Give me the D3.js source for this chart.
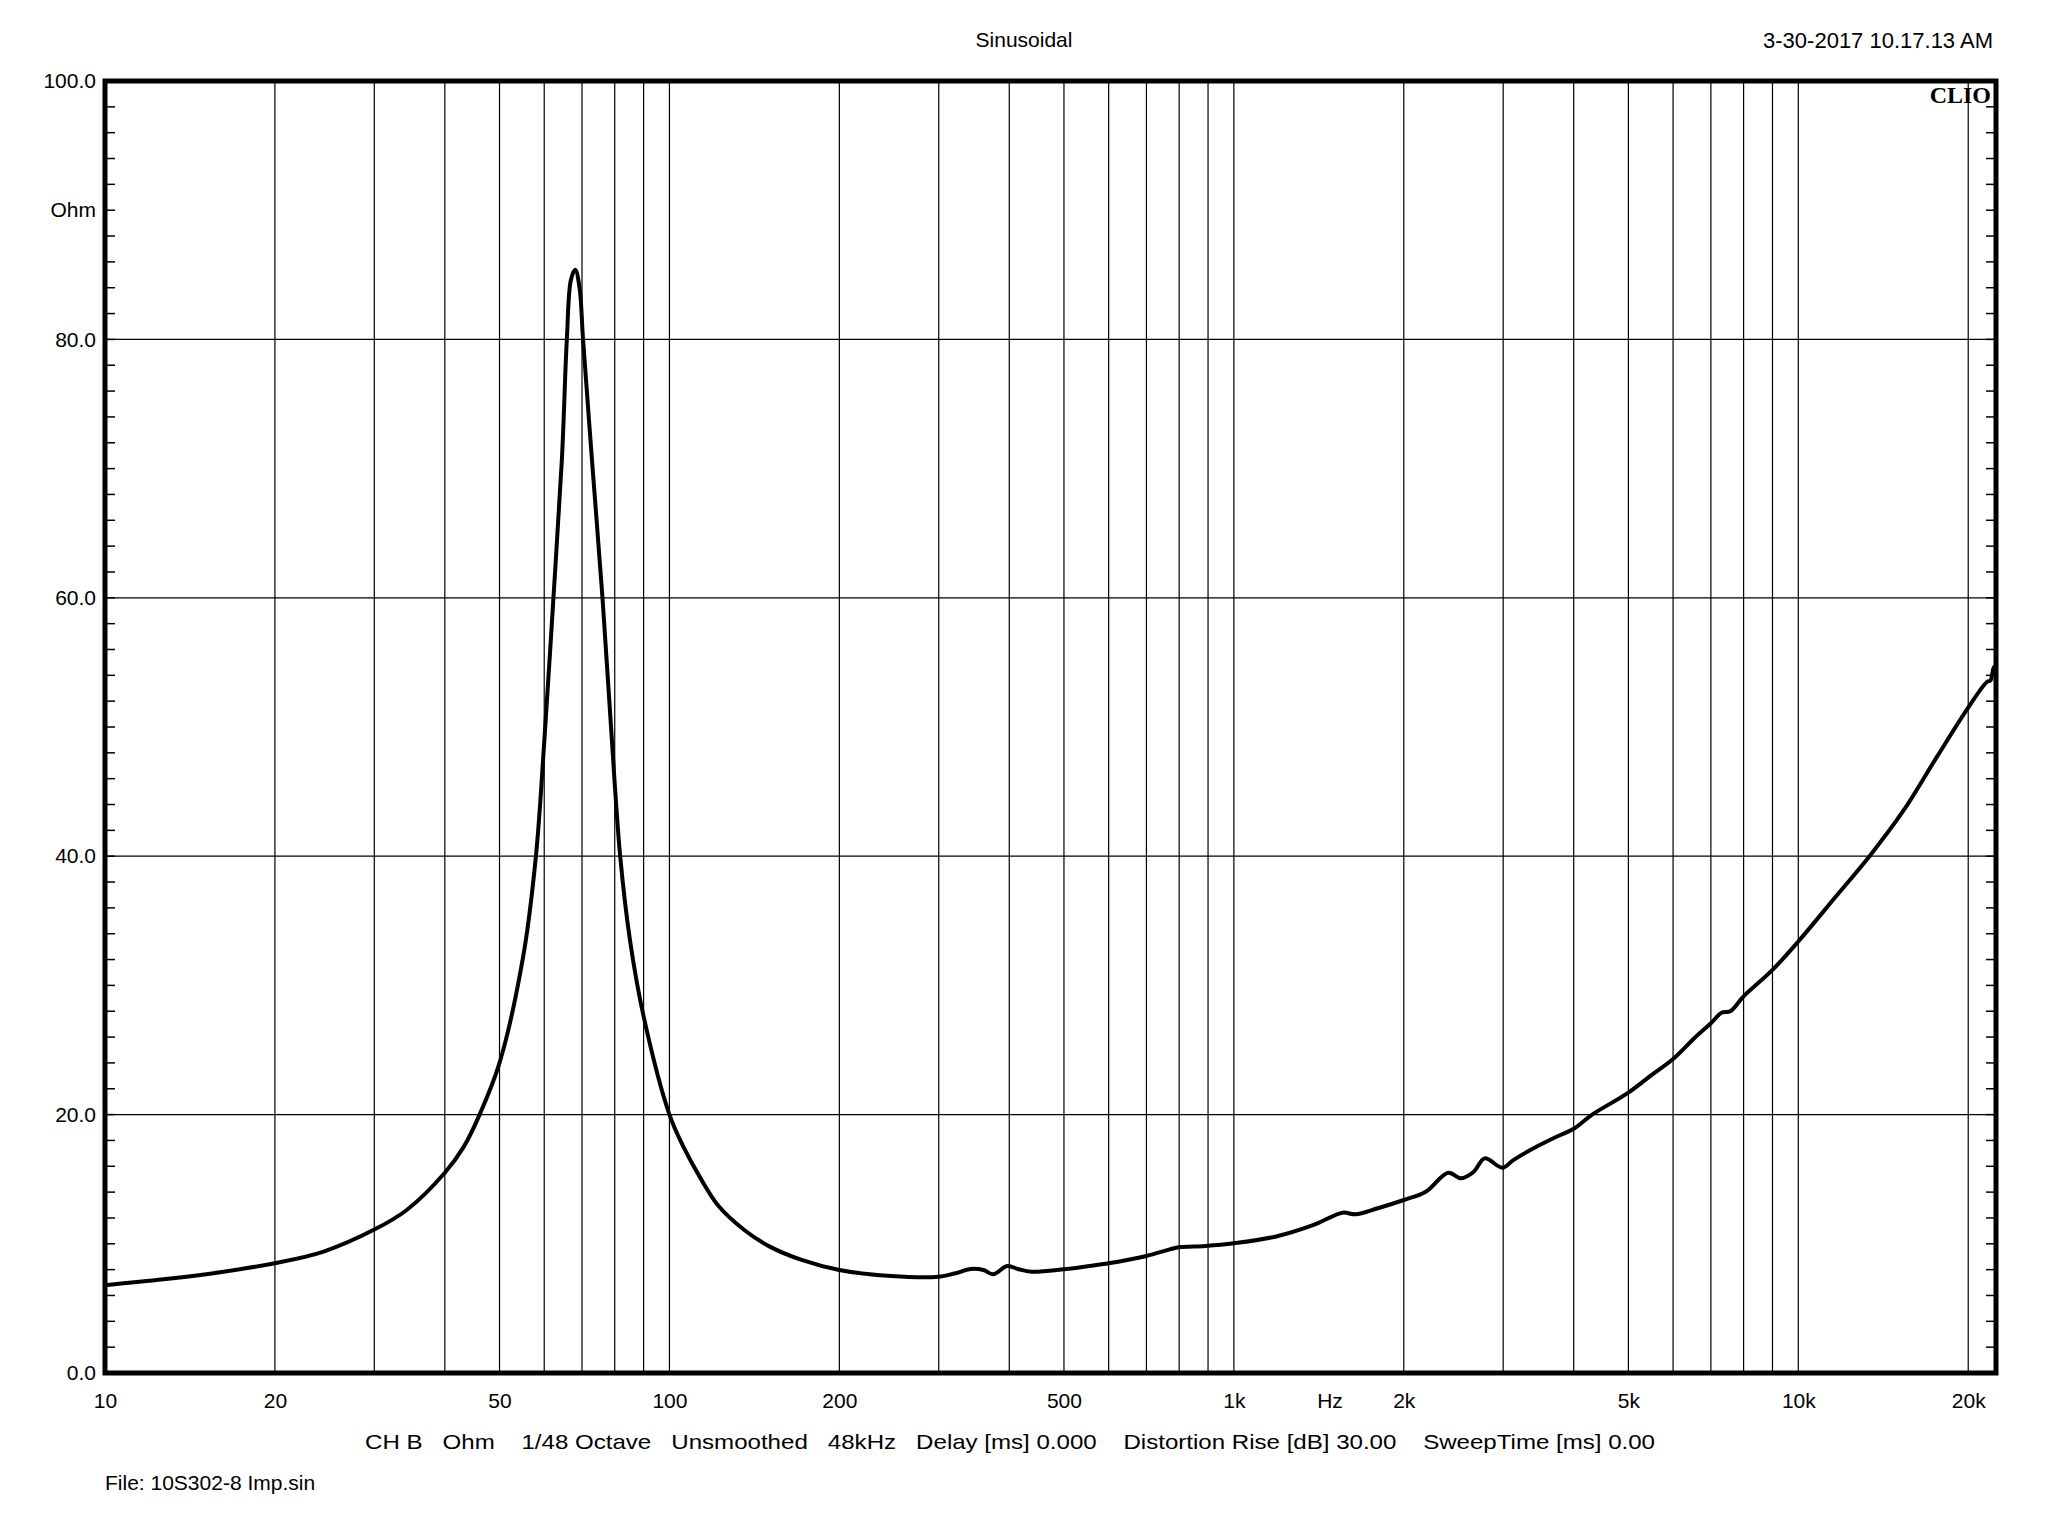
<!DOCTYPE html>
<html>
<head>
<meta charset="utf-8">
<script src="https://cdn.jsdelivr.net/npm/d3@7"></script>
<style>
  body { margin: 0; background: #fff; }
  text { font-family: "Liberation Sans", Arial, sans-serif; fill: #000; }
</style>
</head>
<body>
<svg width="2048" height="1536"></svg>
<script>
// impedance sweep
const freq = [10, 12.7, 16, 20, 24.4, 30, 34.2, 40, 43.2, 46.1, 50, 55.1, 58, 60, 62.3, 64.5, 65.8, 66.9, 68.1, 69.3, 70.3, 73.1, 76.1, 78.8, 81.8, 85.2, 90, 100, 105.9, 113.1, 122.3, 135.7, 150.6, 171.5, 200, 247, 300, 320, 342, 360, 374.6, 396.7, 415.7, 437.7, 500, 580, 600, 700, 770, 800, 890, 1000, 1184, 1385, 1558, 1642, 1799, 2000, 2188, 2397, 2526, 2661, 2782, 2992, 3131, 3365, 3736, 4000, 4313, 5000, 5493, 6000, 6561, 7000, 7323, 7578, 8000, 9000, 10000, 11665, 13370, 15340, 17590, 20000, 21600, 21900, 22200, 22400];
const ohm = [6.8, 7.25, 7.8, 8.5, 9.4, 11.1, 12.6, 15.5, 17.5, 20.0, 24.0, 32.3, 40.0, 48.8, 60.0, 70.8, 80.0, 84.6, 85.4, 84.0, 80.0, 70.0, 60.0, 50.0, 40.0, 33.4, 27.6, 20.0, 17.5, 15.2, 12.9, 11.07, 9.78, 8.75, 7.97, 7.5, 7.45, 7.7, 8.05, 7.97, 7.64, 8.28, 8.03, 7.84, 8.03, 8.4, 8.49, 9.06, 9.57, 9.73, 9.83, 10.04, 10.55, 11.46, 12.41, 12.28, 12.75, 13.39, 14.03, 15.5, 15.07, 15.58, 16.61, 15.89, 16.5, 17.3, 18.3, 18.9, 20.0, 21.7, 23.06, 24.3, 25.97, 27.07, 27.9, 28.0, 29.15, 31.2, 33.4, 36.9, 40.0, 43.5, 47.67, 51.5, 53.5, 53.6, 54.6, 54.7];

const xLabelValues = [10, 20, 50, 100, 200, 500, 1000, 2000, 5000, 10000, 20000];
const xLabels = ["10", "20", "50", "100", "200", "500", "1k", "2k", "5k", "10k", "20k"];
const xGridValues = [20, 30, 40, 50, 60, 70, 80, 90, 100, 200, 300, 400, 500, 600, 700, 800, 900,
  1000, 2000, 3000, 4000, 5000, 6000, 7000, 8000, 9000, 10000, 20000];
const yLabelValues = [0, 20, 40, 60, 80, 90, 100];
const yLabels = ["0.0", "20.0", "40.0", "60.0", "80.0", "Ohm", "100.0"];
const yGridValues = [20, 40, 60, 80];
const yMinorTicks = d3.range(2, 100, 2);

const svg = d3.select("svg");
const plotLeft = 105, plotRight = 1996, plotTop = 81, plotBottom = 1373;

const x = d3.scaleLog().domain([10, 22400]).range([plotLeft, plotRight]);
const y = d3.scaleLinear().domain([0, 100]).range([plotBottom, plotTop]);

// grid
const grid = svg.append("g").attr("stroke", "#000").attr("stroke-width", 1.2);
grid.selectAll(".vg").data(xGridValues).join("line")
    .attr("x1", d => x(d)).attr("x2", d => x(d))
    .attr("y1", plotTop).attr("y2", plotBottom);
grid.selectAll(".hg").data(yGridValues).join("line")
    .attr("x1", plotLeft).attr("x2", plotRight)
    .attr("y1", d => y(d)).attr("y2", d => y(d));

// minor ticks, left and right
const ticks = svg.append("g").attr("stroke", "#000").attr("stroke-width", 1.5);
ticks.selectAll(".lt").data(yMinorTicks).join("line")
    .attr("x1", plotLeft).attr("x2", plotLeft + 10)
    .attr("y1", d => y(d)).attr("y2", d => y(d));
ticks.selectAll(".rt").data(yMinorTicks).join("line")
    .attr("x1", plotRight - 10).attr("x2", plotRight)
    .attr("y1", d => y(d)).attr("y2", d => y(d));

// the curve
const line = d3.line()
    .x((d, i) => x(freq[i]))
    .y(d => y(d))
    .curve(d3.curveCatmullRom.alpha(0.5));

svg.append("path")
    .attr("d", line(ohm))
    .attr("fill", "none")
    .attr("stroke", "#000")
    .attr("stroke-width", 4)
    .attr("stroke-linejoin", "round");

// frame
svg.append("rect")
    .attr("x", plotLeft).attr("y", plotTop)
    .attr("width", plotRight - plotLeft).attr("height", plotBottom - plotTop)
    .attr("fill", "none")
    .attr("stroke", "#000")
    .attr("stroke-width", 5);

// axis labels
const xAxis = d3.axisBottom(x)
    .tickValues(xLabelValues)
    .tickFormat((d, i) => xLabels[i])
    .tickSize(0)
    .tickPadding(20);
const gx = svg.append("g").attr("transform", `translate(0,${plotBottom})`).call(xAxis);
gx.select(".domain").remove();
gx.selectAll("text").style("font-size", "21px").attr("font-family", null);

const yAxis = d3.axisLeft(y)
    .tickValues(yLabelValues)
    .tickFormat((d, i) => yLabels[i])
    .tickSize(0)
    .tickPadding(9);
const gy = svg.append("g").attr("transform", `translate(${plotLeft},0)`).call(yAxis);
gy.select(".domain").remove();
gy.selectAll("text").style("font-size", "21px").attr("font-family", null);

svg.append("text")
    .attr("x", x(1480)).attr("y", plotBottom + 28)
    .attr("dy", "0.32em")
    .attr("text-anchor", "middle")
    .style("font-size", "21px")
    .text("Hz");

// header
svg.append("text")
    .attr("x", 1024).attr("y", 40)
    .attr("dy", "0.35em")
    .attr("text-anchor", "middle")
    .style("font-size", "21px")
    .text("Sinusoidal");

svg.append("text")
    .attr("x", 1993).attr("y", 40)
    .attr("dy", "0.35em")
    .attr("text-anchor", "end")
    .style("font-size", "22px")
    .text("3-30-2017 10.17.13 AM");

svg.append("text")
    .attr("x", 1991).attr("y", 103)
    .attr("text-anchor", "end")
    .style("font-family", "'Liberation Serif', 'DejaVu Serif', serif")
    .style("font-weight", "bold")
    .style("font-size", "24px")
    .text("CLIO");

// footer
svg.append("text")
    .attr("x", 365).attr("y", 1442)
    .attr("dy", "0.35em")
    .attr("textLength", 1290)
    .attr("lengthAdjust", "spacingAndGlyphs")
    .style("font-size", "21px")
    .style("white-space", "pre")
    .text("CH B   Ohm    1/48 Octave   Unsmoothed   48kHz   Delay [ms] 0.000    Distortion Rise [dB] 30.00    SweepTime [ms] 0.00");

svg.append("text")
    .attr("x", 105).attr("y", 1483)
    .attr("dy", "0.35em")
    .style("font-size", "21px")
    .text("File: 10S302-8 Imp.sin");
</script>
</body>
</html>
